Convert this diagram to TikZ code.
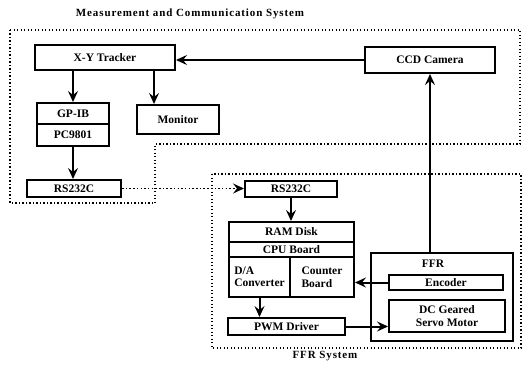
\documentclass[tikz,border=0pt]{standalone}
\usepackage{fontspec}
\setmainfont{Liberation Serif}
\usetikzlibrary{arrows.meta}
\begin{document}
\begin{tikzpicture}[x=1pt,y=-1pt,
  every node/.style={font=\fontsize{11.5}{12.5}\selectfont\bfseries},
  blk/.style={draw,line width=2pt,inner sep=0pt,minimum width=#1},
  conn/.style={line width=2pt,-{Stealth[length=11pt,width=10pt,inset=4pt]}},
  region/.style={line width=1.7pt,dash pattern=on 1.4pt off 2.1pt},
  lbl/.style={font=\fontsize{11}{12}\selectfont\bfseries\addfontfeatures{LetterSpace=8}}]
\useasboundingbox (0,0) rectangle (523,370);
% regions
\draw[region] (10,30) -- (520,30) -- (520,144) -- (155,144) -- (155,203) -- (10,203) -- cycle;
\draw[region] (212,174) rectangle (521,348);
\node[lbl] (t1) at (190,14) {Measurement and Communication System};
\node[lbl] (t2) at (325,356) {FFR System};
% blocks
\node[blk=140pt,minimum height=25pt] (xy) at (105,57.5) {X-Y Tracker};
\node[blk=130pt,minimum height=26pt] (ccd) at (430,60) {CCD Camera};
\node[blk=72pt,minimum height=21pt] (gpib) at (73,113.5) {GP-IB};
\node[blk=72pt,minimum height=22pt] (pc) at (73,135) {PC9801};
\node[blk=82pt,minimum height=29pt] (mon) at (178,119.5) {Monitor};
\node[blk=94pt,minimum height=17pt] (rsL) at (74,188.5) {RS232C};
\node[blk=92pt,minimum height=16pt] (rsR) at (291,189) {RS232C};
\node[blk=125pt,minimum height=20pt] (ram) at (291.5,232) {RAM Disk};
\node[blk=125pt,minimum height=15pt] (cpu) at (291.5,249.5) {CPU Board};
\node[blk=61pt,minimum height=40pt,align=left] (da) at (259.5,277) {D/A\\Converter};
\node[blk=64pt,minimum height=40pt,align=left] (cnt) at (322,277) {Counter\\Board};
\node[blk=117pt,minimum height=17pt] (pwm) at (286.5,326.5) {PWM Driver};
\node[blk=142pt,minimum height=88pt] (ffr) at (442,297) {};
\node (ffrl) at (433,264) {FFR};
\node[blk=114pt,minimum height=15pt] (enc) at (446,282.5) {Encoder};
\node[blk=116pt,minimum height=32pt,align=center] (dc) at (447,316) {DC Geared\\Servo Motor};
\coordinate (mtop) at ([xshift=18pt]mon.north west);
% connectors
\draw[conn] (ccd.west) -- (ccd.west -| xy.east);
\draw[conn] (gpib.north |- xy.south) -- (gpib.north);
\draw[conn] (mtop |- xy.south) -- (mtop);
\draw[conn] (pc.south) -- (pc.south |- rsL.north);
\draw[conn,line width=1.6pt,dash pattern=on 1.5pt off 2.2pt] (rsL.east) -- (rsL.east -| rsR.west);
\draw[conn] (rsR.south) -- (rsR.south |- ram.north);
\draw[conn] (da.south) -- (da.south |- pwm.north);
\draw[conn] (enc.west) -- (enc.west -| cnt.east);
\draw[conn] (pwm.east) -- (pwm.east -| dc.west);
\draw[conn] (ccd.south |- ffr.north) -- (ccd.south);
\end{tikzpicture}
\end{document}
